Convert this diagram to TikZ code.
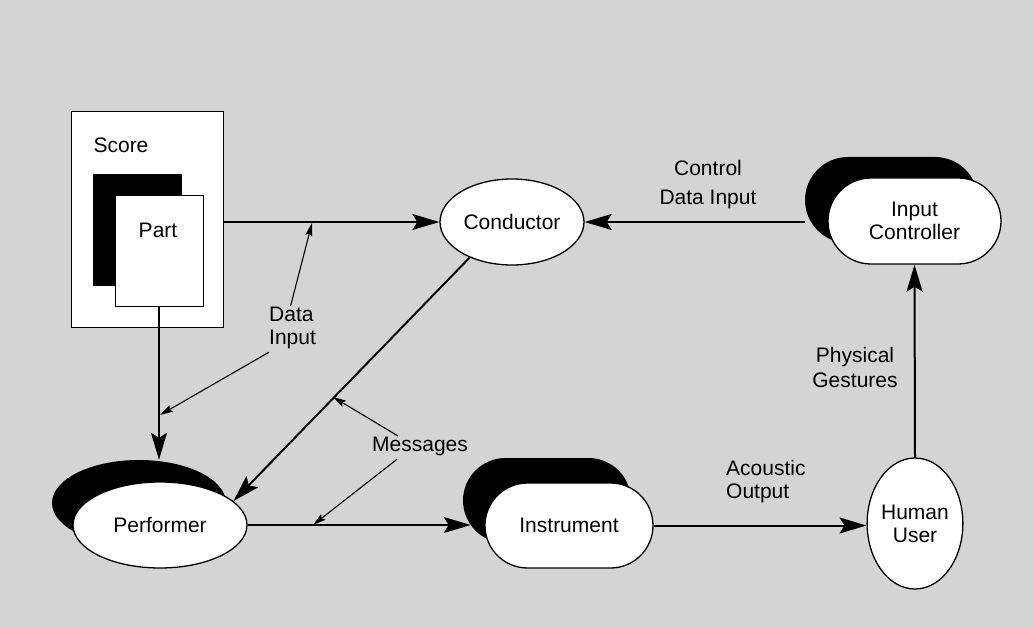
\documentclass[tikz,border=0pt]{standalone}
\usepackage{fontspec}
\setmainfont{Liberation Sans}
\usetikzlibrary{shapes.geometric,shapes.misc,arrows.meta}
\begin{document}
\begin{tikzpicture}[x=1pt,y=-1pt,
  txt/.style={font=\fontsize{21}{23}\selectfont, inner sep=0pt},
  oval/.style={ellipse, draw, line width=1.3pt, fill=white, inner sep=0pt, font=\fontsize{21}{23}\selectfont, align=center},
  ovalshadow/.style={ellipse, fill=black, inner sep=0pt},
  pill/.style={rounded rectangle, draw, line width=1.3pt, fill=white, inner sep=0pt, font=\fontsize{21}{23}\selectfont, align=center},
  pillshadow/.style={rounded rectangle, fill=black, inner sep=0pt},
  paper/.style={rectangle, draw, line width=1pt, fill=white, inner sep=0pt},
  flow/.style={line width=2pt, -{Stealth[length=27pt,width=16pt,inset=5pt]}},
  pointer/.style={line width=1.1pt, -{Stealth[length=13pt,width=7pt,inset=2pt]}},
]
\fill[black!17] (0,0) rectangle (1034,628);
\useasboundingbox (0,0) rectangle (1034,628);

% Score with part
\node[paper, minimum width=152pt, minimum height=216pt] (score) at (147,220) {};
\node[txt] (scorelbl) at (121,145) {Score};
\node[rectangle, fill=black, inner sep=0pt, minimum width=89pt, minimum height=112pt] (partshadow) at (137.5,230) {};
\node[paper, minimum width=88pt, minimum height=111pt] (part) at (159,251.5) {};
\node[txt] (partlbl) at (158,230) {Part};

% Conductor
\node[oval, minimum width=144pt, minimum height=86pt] (conductor) at (512,222) {Conductor};

% Performer
\node[ovalshadow, minimum width=174pt, minimum height=86pt] (pshadow) at (139,503) {};
\node[oval, minimum width=174pt, minimum height=86pt] (performer) at (160,525) {Performer};

% Instrument
\node[pillshadow, minimum width=168pt, minimum height=85pt] (ishadow) at (547,500.5) {};
\node[pill, minimum width=168pt, minimum height=85pt] (instrument) at (569,525.5) {Instrument};

% Input controller
\node[pillshadow, minimum width=173pt, minimum height=86pt] (cshadow) at (891.5,200) {};
\node[pill, minimum width=173pt, minimum height=86pt] (controller) at (914.5,221) {Input\\Controller};

% Human user
\node[oval, minimum width=86pt, minimum height=131pt] (human) at (915,523.5) {Human\\User};

% Labels
\node[txt, anchor=north west, align=left] (datalbl) at (269,307) {Data\\Input};
\node[txt, anchor=north west] (msglbl) at (372,437) {Messages};
\node[txt, anchor=north west, align=left] (acolbl) at (726,460) {Acoustic\\Output};
\node[txt, anchor=north, align=center, font=\fontsize{21}{29}\selectfont] (ctrllbl) at (708,160) {Control\\Data Input};
\node[txt, anchor=north, align=center, font=\fontsize{21}{25}\selectfont] (physlbl) at (855,347) {Physical\\Gestures};

% Main flows
\draw[flow] (part.south) -- (part.south |- pshadow.north);
\draw[flow] (score.east |- conductor.west) -- (conductor.west);
\draw[flow] (cshadow.west |- conductor.east) -- (conductor.east);
\draw[flow] (conductor.220) -- (performer.18);
\draw[flow] (performer.east) -- (performer.east -| ishadow.198);
\draw[flow] (instrument.east) -- (instrument.east -| human.west);
\draw[flow] (human.north) -- (controller.south);

% Pointers
\coordinate (dtip1) at (312,223);
\coordinate (dtip2) at (160,415);
\coordinate (mtip1) at (333,397);
\coordinate (mtip2) at (313,525);
\draw[pointer] ([xshift=-2pt,yshift=1pt]datalbl.north) -- (dtip1);
\draw[pointer] ([yshift=-3pt]datalbl.south west) -- (dtip2);
\draw[pointer] ([xshift=-22pt,yshift=1pt]msglbl.north) -- (mtip1);
\draw[pointer] ([xshift=-23pt,yshift=-3pt]msglbl.south) -- (mtip2);
\end{tikzpicture}
\end{document}
